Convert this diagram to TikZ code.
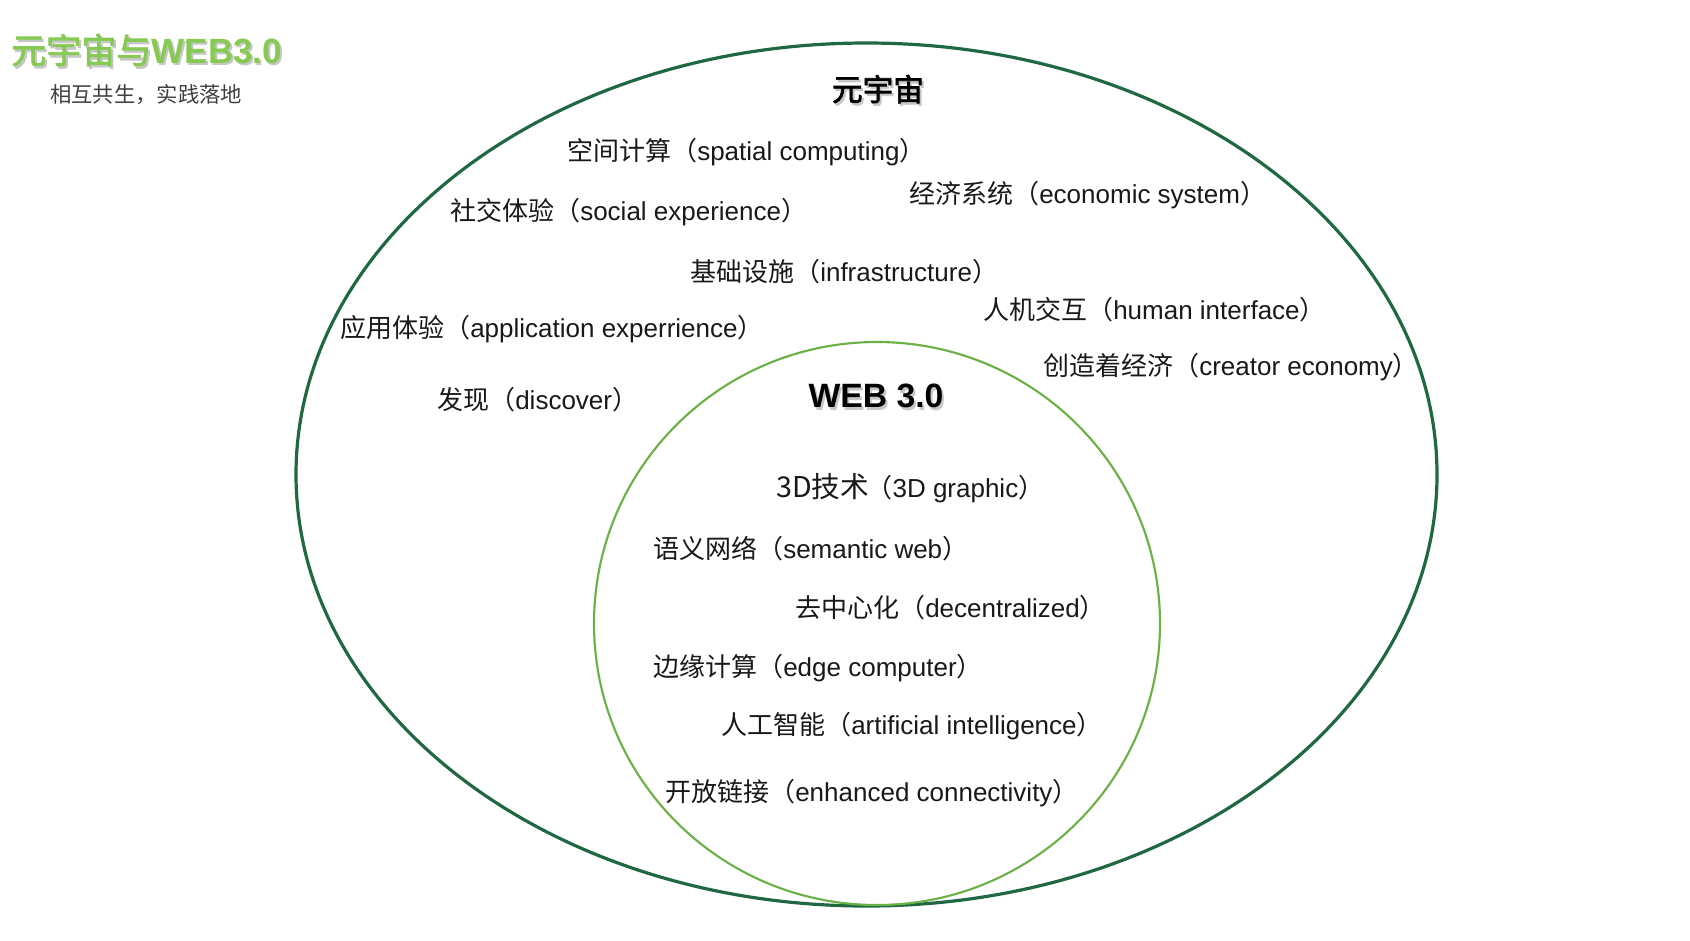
\documentclass[tikz,border=0pt]{standalone}
\usepackage{fontspec}
\setmainfont{Noto Sans CJK SC}
\newfontfamily\lat{Liberation Sans}
\newfontfamily\zhb{Noto Sans CJK SC}[FakeBold=2.2]
\newfontfamily\latb{Liberation Sans Bold}
\newcommand\itm[2]{#1（{\lat #2}）}
\definecolor{outerg}{RGB}{32,104,66}
\definecolor{innerg}{RGB}{108,176,72}
\definecolor{titleg}{RGB}{134,202,84}
\definecolor{txt}{RGB}{25,25,25}
\begin{document}
\begin{tikzpicture}[x=0.75pt,y=-0.75pt,
  item/.style={anchor=west,inner sep=0pt,text=txt,font=\fontsize{19.5}{21}\selectfont},
  shadowtxt/.style={inner sep=0pt,text=black!22}]
\useasboundingbox (0,0) rectangle (1690,940);
\fill[white] (0,0) rectangle (1690,940);
% ellipses
\draw[outerg,line width=2.4pt] (866.5,474.5) ellipse [x radius=570.5, y radius=431.5];
\draw[innerg,line width=1.6pt] (877,623.5) ellipse [x radius=283, y radius=281.5];
% title
\node[shadowtxt,anchor=west,font=\fontsize{26.3}{28}\selectfont] at (13,52.5) {\zhb 元宇宙与{\latb WEB3.0}};
\node (title) [anchor=west,inner sep=0pt,text=titleg,font=\fontsize{26.3}{28}\selectfont] at (11,50) {\zhb 元宇宙与{\latb WEB3.0}};
\node (sub) [anchor=west,inner sep=0pt,text=black!75,font=\fontsize{16}{17}\selectfont] at (50,95) {相互共生，实践落地};
% headings
\node[shadowtxt,font=\fontsize{23}{25}\selectfont\zhb] at (880,91.5) {元宇宙};
\node (meta) [inner sep=0pt,text=black,font=\fontsize{23}{25}\selectfont\zhb] at (878,89) {元宇宙};
\node[shadowtxt,font=\fontsize{25.3}{27}\selectfont\latb] at (878,398.5) {WEB 3.0};
\node (web) [inner sep=0pt,text=black,font=\fontsize{25.3}{27}\selectfont\latb] at (876,396) {WEB 3.0};
% metaverse items
\node (i1) [item] at (567,152) {\itm{空间计算}{spatial computing}};
\node (i2) [item] at (909,195) {\itm{经济系统}{economic system}};
\node (i3) [item] at (450,212) {\itm{社交体验}{social experience}};
\node (i4) [item] at (690,272) {\itm{基础设施}{infrastructure}};
\node (i5) [item] at (983,310) {\itm{人机交互}{human interface}};
\node (i6) [item] at (340,329) {\itm{应用体验}{application experrience}};
\node (i7) [item] at (1043,367.5) {\itm{创造着经济}{creator economy}};
\node (i8) [item] at (437,400) {\itm{发现}{discover}};
% web3 items
\node (w1) [item] at (776,488) {{\fontsize{21.5}{23}\selectfont 3D技术}\hspace{-2pt}\itm{}{3D graphic}};
\node (w2) [item] at (653,548.5) {\itm{语义网络}{semantic web}};
\node (w3) [item] at (795,608) {\itm{去中心化}{decentralized}};
\node (w4) [item] at (653,668) {\itm{边缘计算}{edge computer}};
\node (w5) [item] at (721,726.5) {\itm{人工智能}{artificial intelligence}};
\node (w6) [item] at (665,793) {\itm{开放链接}{enhanced connectivity}};
\end{tikzpicture}
\end{document}
